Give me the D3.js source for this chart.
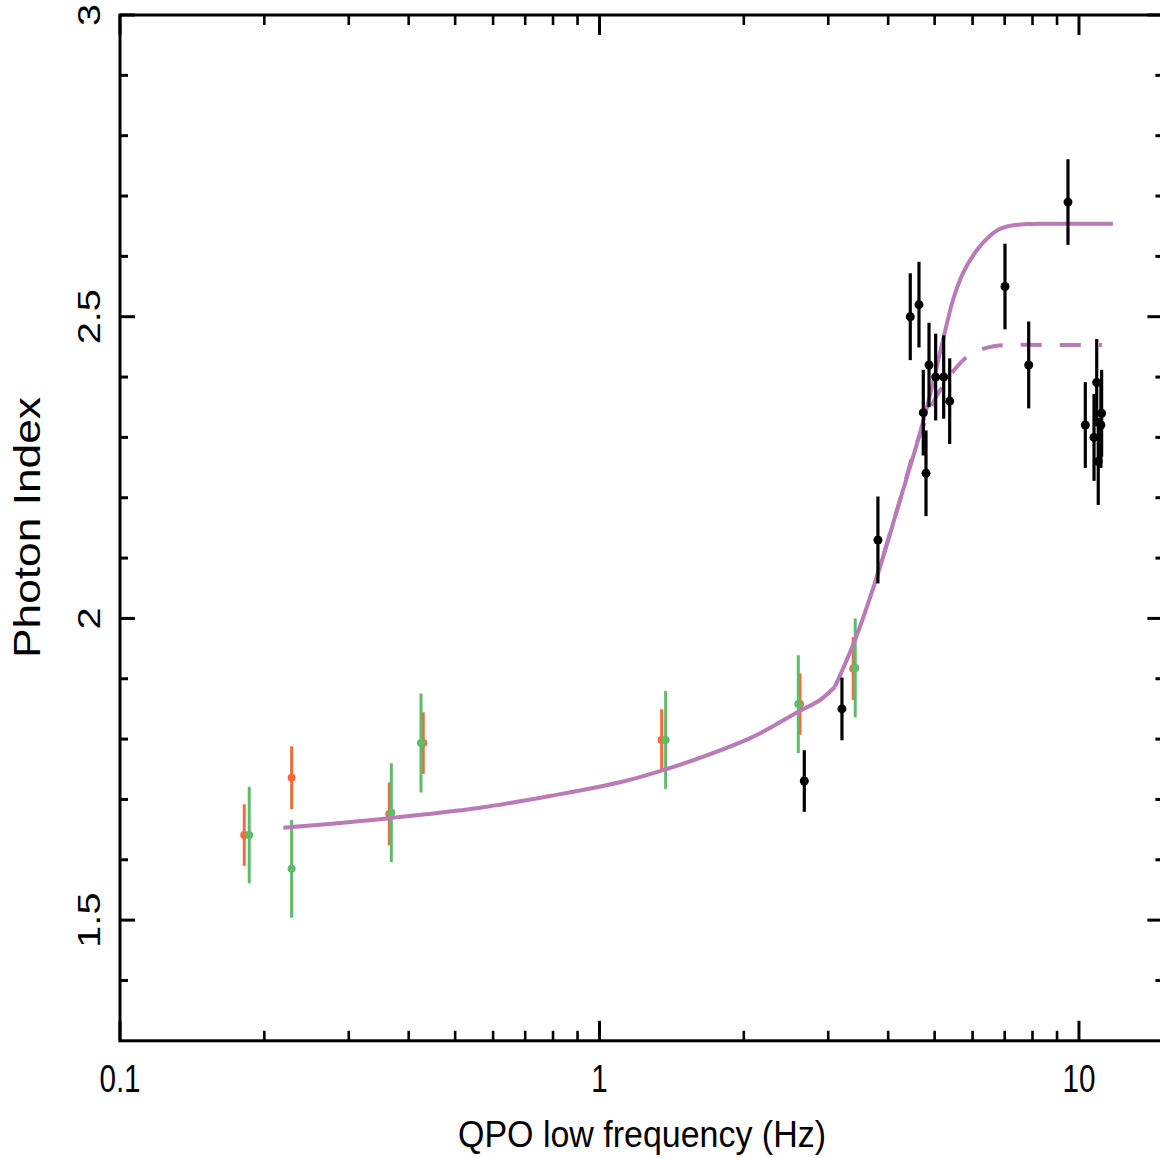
<!DOCTYPE html>
<html>
<head>
<meta charset="utf-8">
<script src="https://cdn.jsdelivr.net/npm/d3@7"></script>
<style>
  html, body { margin: 0; padding: 0; background: #fff; }
  svg { display: block; }
  text { font-family: "Liberation Sans", Arial, sans-serif; fill: #000; }
</style>
</head>
<body>
<div id="chart"></div>
<script>
// Orange points (freq in Hz, photon index, 1-sigma error)
const orangeFreq = [0.1816, 0.228, 0.3645, 0.429, 1.348, 2.619, 3.382];
const orangeGamma = [1.641, 1.736, 1.676, 1.7935, 1.7985, 1.858, 1.917];
const orangeErr = [0.051, 0.052, 0.052, 0.051, 0.051, 0.051, 0.052];

// Green points
const greenFreq = [0.186, 0.228, 0.368, 0.4244, 1.374, 2.598, 3.415];
const greenGamma = [1.641, 1.585, 1.678, 1.7935, 1.7985, 1.858, 1.918];
const greenErr = [0.08, 0.081, 0.082, 0.082, 0.081, 0.081, 0.082];

// Black points
const blackFreq = [2.674, 3.204, 3.808, 4.448, 4.638, 4.735, 4.797, 4.867, 5.025, 5.222,
  5.375, 7.01, 7.855, 9.486, 10.31, 10.75, 10.89, 10.97, 11.11, 11.15];
const blackGamma = [1.7305, 1.85, 2.13, 2.5, 2.52, 2.341, 2.2405, 2.42, 2.4, 2.4,
  2.36, 2.55, 2.42, 2.69, 2.3205, 2.3, 2.391, 2.26, 2.3205, 2.34];
const blackErr = [0.051, 0.052, 0.072, 0.072, 0.071, 0.071, 0.071, 0.07, 0.072, 0.069,
  0.071, 0.071, 0.072, 0.071, 0.071, 0.072, 0.072, 0.072, 0.071, 0.072];

// Model curves (low branch up to the kink, then the rise)
const solidLowFreq = [0.2191, 0.3639, 0.5636, 0.788, 1.1034, 1.3585, 1.6468, 2.0932, 2.598, 2.884, 3.098];
const solidLowGamma = [1.6531, 1.669, 1.6863, 1.7057, 1.7284, 1.7487, 1.7708, 1.804, 1.8454, 1.8648, 1.8868];
const solidHighFreq = [3.098, 3.411, 3.754, 4.235, 4.661, 4.961, 5.205, 5.461, 5.73, 6.128, 6.523, 6.8, 7.077, 7.792, 9.0, 11.77];
const solidHighGamma = [1.8868, 1.9642, 2.0587, 2.1962, 2.3073, 2.3901, 2.4614, 2.5277, 2.5724, 2.6105, 2.634, 2.6445, 2.6495, 2.6536, 2.654, 2.654];

const dashedFreq = [3.754, 4.235, 4.55, 4.773, 5.008, 5.254, 5.513, 5.84, 6.217, 6.68, 7.18, 8.5, 11.17];
const dashedGamma = [2.0587, 2.1962, 2.2824, 2.3255, 2.3636, 2.3901, 2.4133, 2.4332, 2.4448, 2.4514, 2.4531, 2.4531, 2.4531];

// Axis ticks
const xMajor = [0.1, 1, 10];
const xMinor = [0.2, 0.3, 0.4, 0.5, 0.6, 0.7, 0.8, 0.9, 2, 3, 4, 5, 6, 7, 8, 9];
const xLabels = ["0.1", "1", "10"];
const yMajor = [1.5, 2, 2.5, 3];
const yLabels = ["1.5", "2", "2.5", "3"];
const yMinor = d3.range(14, 30).map((d) => d / 10);

const W = 1160, H = 1158;
const frame = { left: 120, right: 1163.4, top: 15, bottom: 1040.8 };

/**
 * Build the whole figure
 */
function render() {
  const svg = d3.select("#chart").append("svg").attr("width", W).attr("height", H);
  svg.append("rect").attr("width", W).attr("height", H).attr("fill", "#fff");

  const x = d3.scaleLog().domain([0.1, 15]).range([frame.left, frame.right]);
  const y = d3.scaleLinear().domain([1.3, 3]).range([frame.bottom, frame.top]);

  drawFrame(svg, x, y);

  drawSeries(svg, x, y, orangeFreq, orangeGamma, orangeErr, "#f26b3a", 3, 4);
  drawSeries(svg, x, y, greenFreq, greenGamma, greenErr, "#5dbb6a", 3, 4);

  // model curves
  const line = d3.line().x((d) => x(d[0])).y((d) => y(d[1])).curve(d3.curveCatmullRom.alpha(0.5));
  const pairs = (fs, gs) => fs.map((f, i) => [f, gs[i]]);
  svg.append("path")
    .attr("d", line(pairs(dashedFreq, dashedGamma)))
    .attr("fill", "none").attr("stroke", "#b97ab7").attr("stroke-width", 4)
    .attr("stroke-dasharray", "21,18").attr("stroke-dashoffset", -30);
  svg.append("path")
    .attr("d", line(pairs(solidLowFreq, solidLowGamma)) + line(pairs(solidHighFreq, solidHighGamma)))
    .attr("fill", "none").attr("stroke", "#b97ab7").attr("stroke-width", 4)
    .attr("stroke-linejoin", "round");

  drawSeries(svg, x, y, blackFreq, blackGamma, blackErr, "#000", 3.2, 4.5);

  drawLabels(svg, x, y);
}

/**
 * Error bars plus dots for one data set
 */
function drawSeries(svg, x, y, freq, gamma, err, color, sw, r) {
  const g = svg.append("g");
  const data = freq.map((f, i) => ({ f, v: gamma[i], e: err[i] }));
  g.selectAll("line").data(data).join("line")
    .attr("x1", (d) => x(d.f)).attr("x2", (d) => x(d.f))
    .attr("y1", (d) => y(d.v - d.e)).attr("y2", (d) => y(d.v + d.e))
    .attr("stroke", color).attr("stroke-width", sw);
  g.selectAll("circle").data(data).join("circle")
    .attr("cx", (d) => x(d.f)).attr("cy", (d) => y(d.v)).attr("r", r)
    .attr("fill", color);
}

/**
 * Box with ticks on all four sides (PGPLOT style)
 */
function drawFrame(svg, x, y) {
  const g = svg.append("g").attr("stroke", "#000");
  const tick = (x1, y1, x2, y2, w) =>
    g.append("line").attr("x1", x1).attr("y1", y1).attr("x2", x2).attr("y2", y2).attr("stroke-width", w);

  xMajor.forEach((v) => {
    tick(x(v), frame.bottom, x(v), frame.bottom - 20, 3);
    tick(x(v), frame.top, x(v), frame.top + 20, 3);
  });
  xMinor.forEach((v) => {
    tick(x(v), frame.bottom, x(v), frame.bottom - 10, 2.6);
    tick(x(v), frame.top, x(v), frame.top + 10, 2.6);
  });
  yMajor.forEach((v) => {
    tick(frame.left, y(v), frame.left + 15, y(v), 3);
    tick(frame.right, y(v), frame.right - 16, y(v), 3);
  });
  yMinor.filter((v) => !yMajor.some((m) => Math.abs(m - v) < 1e-6)).forEach((v) => {
    tick(frame.left, y(v), frame.left + 8, y(v), 3);
    tick(frame.right, y(v), frame.right - 8, y(v), 3);
  });

  g.append("rect")
    .attr("x", frame.left).attr("y", frame.top)
    .attr("width", frame.right - frame.left).attr("height", frame.bottom - frame.top)
    .attr("fill", "none").attr("stroke-width", 3);
}

/**
 * Tick labels and axis titles
 */
function drawLabels(svg, x, y) {
  xMajor.forEach((v, i) => {
    svg.append("text")
      .attr("transform", `translate(${x(v)},1092) scale(0.76,1)`)
      .attr("text-anchor", "middle").attr("font-size", 39)
      .text(xLabels[i]);
  });
  yMajor.forEach((v, i) => {
    svg.append("text")
      .attr("transform", `translate(100,${y(v)}) rotate(-90) scale(1.24,1)`)
      .attr("text-anchor", "middle").attr("font-size", 32)
      .text(yLabels[i]);
  });

  svg.append("text")
    .attr("x", 458).attr("y", 1147)
    .attr("font-size", 36)
    .attr("textLength", 368).attr("lengthAdjust", "spacingAndGlyphs")
    .text("QPO low frequency (Hz)");

  svg.append("text")
    .attr("transform", "translate(40,658) rotate(-90)")
    .attr("font-size", 36)
    .attr("textLength", 261).attr("lengthAdjust", "spacingAndGlyphs")
    .text("Photon Index");
}

render();
</script>
</body>
</html>
